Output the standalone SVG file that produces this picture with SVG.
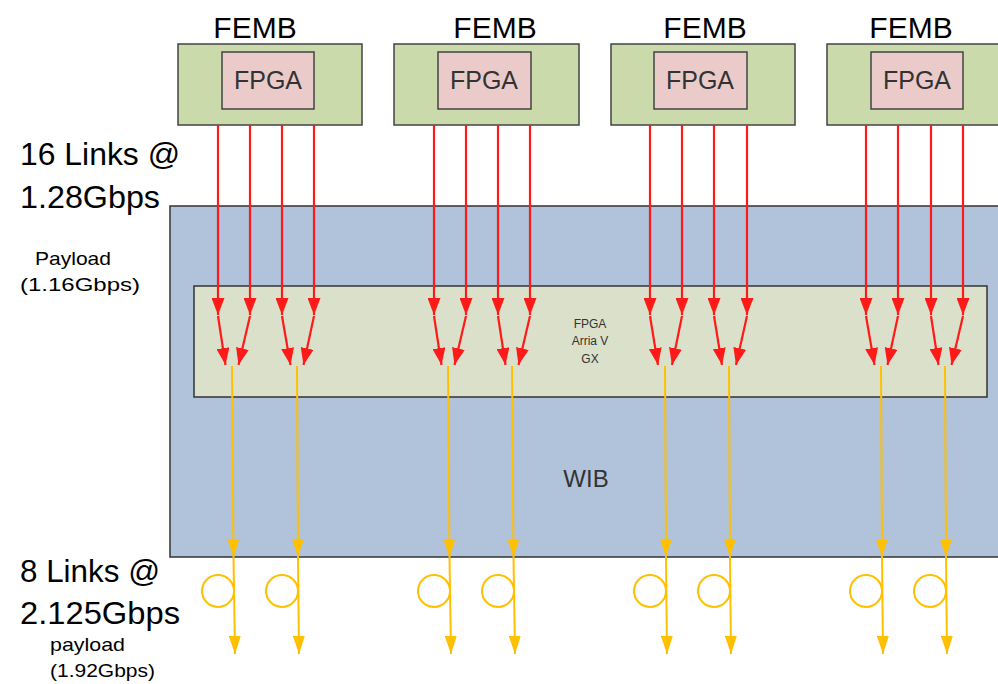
<svg xmlns="http://www.w3.org/2000/svg" width="998" height="684" viewBox="0 0 998 684">
<style>
.femb{fill:#cbdaaa;stroke:#444;stroke-width:1.5}
.fpga{fill:#eacbca;stroke:#444;stroke-width:1.5}
.lbl{font-family:"Liberation Sans",Arial,sans-serif;fill:#000}
.gl{font-family:"Liberation Sans",Arial,sans-serif;fill:#333;text-anchor:middle}
.red{stroke:#ff1a1a;stroke-width:2.2;fill:none;marker-end:url(#ra)}
.yel{stroke:#ffc000;stroke-width:2;fill:none;marker-end:url(#ya)}
.ring{stroke:#ffc000;stroke-width:2;fill:none}
</style>
<defs>
<marker id="ra" markerUnits="userSpaceOnUse" viewBox="0 0 17 13" refX="17" refY="6.5" markerWidth="17" markerHeight="13" orient="auto"><path d="M0,0 L17,6.5 L0,13 z" fill="#ff1a1a"/></marker>
<marker id="ya" markerUnits="userSpaceOnUse" viewBox="0 0 18 12" refX="18" refY="6" markerWidth="18" markerHeight="12" orient="auto"><path d="M0,0 L18,6 L0,12 z" fill="#ffc000"/></marker>
</defs>
<rect width="998" height="684" fill="#fff"/>
<g id="wib">
<rect x="170" y="206" width="840" height="351" fill="#b0c3db" stroke="#333" stroke-width="1.5"/>
<text class="gl" x="586" y="487" font-size="24" fill="#222">WIB</text>
</g>
<g id="arria">
<rect x="194" y="286" width="793" height="111" fill="#dbe0cb" stroke="#333" stroke-width="1.5"/>
<text class="gl" x="590" y="328" font-size="12">FPGA</text>
<text class="gl" x="590" y="345" font-size="12">Arria V</text>
<text class="gl" x="590" y="363" font-size="12">GX</text>
</g>
<g id="femb1">
<text class="lbl" x="255" y="38" font-size="30" text-anchor="middle">FEMB</text>
<rect class="femb" x="178" y="44" width="184" height="81"/>
<rect class="fpga" x="222" y="52" width="92" height="57"/>
<text class="gl" x="268" y="89" font-size="25">FPGA</text>
</g>
<g id="femb2">
<text class="lbl" x="495" y="38" font-size="30" text-anchor="middle">FEMB</text>
<rect class="femb" x="394" y="44" width="185" height="81"/>
<rect class="fpga" x="438" y="52" width="93" height="57"/>
<text class="gl" x="484" y="89" font-size="25">FPGA</text>
</g>
<g id="femb3">
<text class="lbl" x="705" y="38" font-size="30" text-anchor="middle">FEMB</text>
<rect class="femb" x="611" y="44" width="184" height="81"/>
<rect class="fpga" x="654" y="52" width="93" height="57"/>
<text class="gl" x="700" y="89" font-size="25">FPGA</text>
</g>
<g id="femb4">
<text class="lbl" x="911" y="38" font-size="30" text-anchor="middle">FEMB</text>
<rect class="femb" x="827" y="44" width="184" height="81"/>
<rect class="fpga" x="871" y="52" width="92" height="57"/>
<text class="gl" x="917" y="89" font-size="25">FPGA</text>
</g>
<g id="labels">
<text class="lbl" x="20" y="165" font-size="31" textLength="160" lengthAdjust="spacingAndGlyphs">16 Links @</text>
<text class="lbl" x="20" y="208" font-size="31" textLength="140" lengthAdjust="spacingAndGlyphs">1.28Gbps</text>
<text class="lbl" x="35" y="265" font-size="19" textLength="76" lengthAdjust="spacingAndGlyphs">Payload</text>
<text class="lbl" x="20" y="291" font-size="19" textLength="120" lengthAdjust="spacingAndGlyphs">(1.16Gbps)</text>
<text class="lbl" x="20" y="582" font-size="31" textLength="140" lengthAdjust="spacingAndGlyphs">8 Links @</text>
<text class="lbl" x="20" y="624" font-size="31" textLength="160" lengthAdjust="spacingAndGlyphs">2.125Gbps</text>
<text class="lbl" x="50" y="651" font-size="19" textLength="75" lengthAdjust="spacingAndGlyphs">payload</text>
<text class="lbl" x="50" y="677" font-size="19" textLength="105" lengthAdjust="spacingAndGlyphs">(1.92Gbps)</text>
</g>
<g id="connectors">
<path class="red" d="M218,125V315"/><path class="red" d="M218,316L225.5,365"/>
<path class="red" d="M250,125V315"/><path class="red" d="M250,316L238.5,365"/>
<path class="red" d="M282,125V315"/><path class="red" d="M282,316L290.5,365"/>
<path class="red" d="M314,125V315"/><path class="red" d="M314,316L303.5,365"/>
<path class="red" d="M434,125V315"/><path class="red" d="M434,316L441.5,365"/>
<path class="red" d="M466,125V315"/><path class="red" d="M466,316L454.5,365"/>
<path class="red" d="M498,125V315"/><path class="red" d="M498,316L505.5,365"/>
<path class="red" d="M530,125V315"/><path class="red" d="M530,316L518.5,365"/>
<path class="red" d="M650,125V315"/><path class="red" d="M650,316L658,365"/>
<path class="red" d="M682,125V315"/><path class="red" d="M682,316L672,365"/>
<path class="red" d="M714,125V315"/><path class="red" d="M714,316L722,365"/>
<path class="red" d="M747,125V315"/><path class="red" d="M747,316L736,365"/>
<path class="red" d="M866,125V315"/><path class="red" d="M866,316L874.5,365"/>
<path class="red" d="M898,125V315"/><path class="red" d="M898,316L887.5,365"/>
<path class="red" d="M931,125V315"/><path class="red" d="M931,316L938.5,365"/>
<path class="red" d="M963,125V315"/><path class="red" d="M963,316L951.5,365"/>
<path class="yel" d="M232,366L233.5,557"/><path class="yel" d="M233.5,557L235,654"/>
<path class="yel" d="M297,366L298,557"/><path class="yel" d="M298,557L299,654"/>
<path class="yel" d="M448,366L449.5,557"/><path class="yel" d="M449.5,557L451,654"/>
<path class="yel" d="M512,366L513.5,557"/><path class="yel" d="M513.5,557L515,654"/>
<path class="yel" d="M665,366L666,557"/><path class="yel" d="M666,557L667,654"/>
<path class="yel" d="M729,366L730,557"/><path class="yel" d="M730,557L731,654"/>
<path class="yel" d="M881,366L882,557"/><path class="yel" d="M882,557L883,654"/>
<path class="yel" d="M945,366L946,557"/><path class="yel" d="M946,557L947,654"/>
<circle class="ring" cx="218" cy="591" r="16"/>
<circle class="ring" cx="282" cy="591" r="16"/>
<circle class="ring" cx="434" cy="591" r="16"/>
<circle class="ring" cx="498" cy="591" r="16"/>
<circle class="ring" cx="650" cy="591" r="16"/>
<circle class="ring" cx="714" cy="591" r="16"/>
<circle class="ring" cx="866" cy="591" r="16"/>
<circle class="ring" cx="930" cy="591" r="16"/>
</g>
</svg>
